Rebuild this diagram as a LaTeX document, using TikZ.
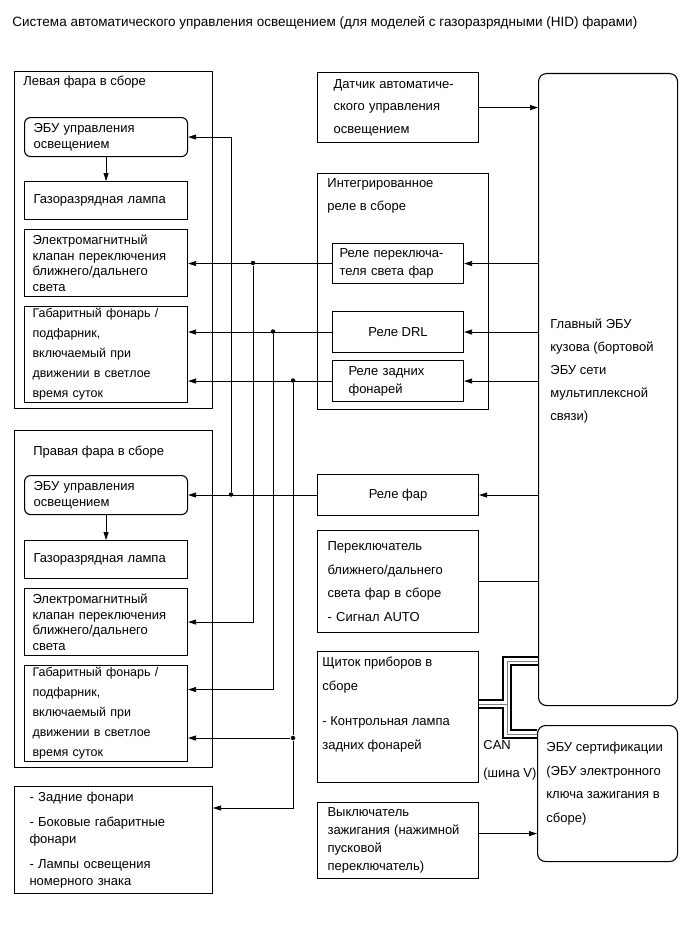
\documentclass[tikz,border=0pt]{standalone}
\usepackage{fontspec}
\setmainfont{Liberation Sans}
\usetikzlibrary{arrows.meta}

\tikzset{
  box/.style={draw, line width=1.1pt, anchor=north west, inner ysep=0pt, align=left,
    font=\fontsize{13}{#1}\selectfont},
  box/.default=15pt,
  lbl/.style={inner sep=0pt, anchor=north west, align=left, font=\fontsize{13}{#1}\selectfont},
  lbl/.default=15pt,
  arr/.style={-{Triangle[length=8pt,width=5pt]}},
  dot/.style={circle, fill, inner sep=0pt, minimum size=4.5pt},
  canbus/.style={line width=10pt, postaction={draw, white, line width=6pt},
    postaction={draw, gray, line width=0.8pt}},
}

\begin{document}
\begin{tikzpicture}[x=1pt, y=-1pt, line width=0.8pt]
  \useasboundingbox (0,0) rectangle (689,950);
  \node[lbl, font=\fontsize{13.5}{16}\selectfont] (title) at (12,16) {Система автоматического управления освещением (для моделей с газоразрядными (HID) фарами)};

  % left headlamp
  \node[box, minimum width=198pt, minimum height=337pt] (louter) at (14,71) {};
  \node[lbl] (llbl) at (23,76) {Левая фара в сборе};
  \node[box=16pt, inner xsep=9pt, text width=145pt, minimum height=39pt, rounded corners=6pt] (lecu) at (24,117) {ЭБУ управления\\освещением};
  \node[box, inner xsep=9pt, text width=145pt, minimum height=38pt] (llamp) at (24,181) {Газоразрядная лампа};
  \node[box=15.5pt, inner xsep=8pt, text width=147pt, minimum height=67pt] (lval) at (24,229) {Электромагнитный\\клапан переключения\\ближнего/дальнего\\света};
  \node[box, inner xsep=8pt, text width=147pt, minimum height=96pt, font=\fontsize{12.5}{20}\selectfont] (lgab) at (24,306) {\mbox{Габаритный фонарь /}\\подфарник,\\включаемый при\\движении в светлое\\время суток};
  \draw[arr] (lecu) -- (llamp);

  % right headlamp
  \node[box, minimum width=198pt, minimum height=337pt] (router) at (14,430) {};
  \node[lbl] (rlbl) at (33,446) {Правая фара в сборе};
  \node[box=16pt, inner xsep=9pt, text width=145pt, minimum height=39pt, rounded corners=6pt] (recu) at (24,475) {ЭБУ управления\\освещением};
  \node[box, inner xsep=9pt, text width=145pt, minimum height=38pt] (rlamp) at (24,540) {Газоразрядная лампа};
  \node[box=15.5pt, inner xsep=8pt, text width=147pt, minimum height=67pt] (rval) at (24,588) {Электромагнитный\\клапан переключения\\ближнего/дальнего\\света};
  \node[box, inner xsep=8pt, text width=147pt, minimum height=96pt, font=\fontsize{12.5}{20}\selectfont] (rgab) at (24,665) {\mbox{Габаритный фонарь /}\\подфарник,\\включаемый при\\движении в светлое\\время суток};
  \draw[arr] (recu) -- (rlamp);

  % rear lamps
  \node[box=17pt, inner xsep=15pt, text width=168pt, minimum height=107pt] (rear) at (14,786) {- Задние фонари\\[8pt]- Боковые габаритные\\фонари\\[8pt]- Лампы освещения\\номерного знака};

  % middle column
  \node[box=22.5pt, inner xsep=16pt, text width=129pt, minimum height=70pt] (sensor) at (317,72) {Датчик автоматиче-\\ского управления\\освещением};
  \node[box, minimum width=171pt, minimum height=236pt] (intrel) at (317,173) {};
  \node[lbl=23pt] (intlbl) at (327,178) {Интегрированное\\реле в сборе};
  \node[box=18pt, inner xsep=7pt, text width=117pt, minimum height=40pt] (hrel) at (332,243) {Реле переключа-\\теля света фар};
  \node[box, align=center, minimum width=131pt, minimum height=41pt] (drl) at (332,311) {Реле DRL};
  \node[box=18pt, inner xsep=16pt, text width=99pt, minimum height=41pt] (trel) at (332,360) {Реле задних\\фонарей};
  \node[box, align=center, minimum width=161pt, minimum height=41pt] (rfar) at (317,474) {Реле фар};
  \node[box=23.5pt, inner xsep=10pt, text width=141pt, minimum height=102pt] (hsw) at (317,530) {Переключатель\\ближнего/дальнего\\света фар в сборе\\- Сигнал AUTO};
  \node[box, minimum width=161pt, minimum height=131pt] (meter) at (317,651) {};
  \node[lbl=24pt] (mlbl) at (322,657) {Щиток приборов в\\сборе\\[11pt]- Контрольная лампа\\задних фонарей};
  \node[box=18pt, inner xsep=10pt, text width=141pt, minimum height=76pt] (ign) at (317,802) {Выключатель\\зажигания (нажимной\\пусковой\\переключатель)};

  % right column
  \node[box, minimum width=139pt, minimum height=632pt, rounded corners=8pt] (bcm) at (538,73) {};
  \node[lbl=23pt] (bcmlbl) at (550,318) {Главный ЭБУ\\кузова (бортовой\\ЭБУ сети\\мультиплексной\\связи)};
  \node[box, minimum width=140pt, minimum height=136pt, rounded corners=8pt] (cert) at (537,725) {};
  \node[lbl=23.5pt] (certlbl) at (546,742) {ЭБУ сертификации\\(ЭБУ электронного\\ключа зажигания в\\сборе)};
  \node[lbl=28pt] (canlbl) at (483,740) {CAN\\(шина V)};

  % signals into body ECU and relays
  \draw[arr] (sensor) -- (sensor -| bcm.west);
  \draw[arr] (bcm.west |- hrel) -- (hrel);
  \draw[arr] (bcm.west |- drl) -- (drl);
  \draw[arr] (bcm.west |- trel) -- (trel);
  \draw[arr] (bcm.west |- rfar) -- (rfar);
  \draw (hsw) -- (hsw -| bcm.west);
  \draw[arr] ([yshift=7pt]ign.east) -- ([yshift=7pt]ign.east -| cert.west);

  % relay outputs to lamps
  \node[dot] (ja) at (231,494.5) {};
  \node[dot] (jb) at (253,263) {};
  \node[dot] (jc) at (273,331.5) {};
  \node[dot] (jd) at (293,380.5) {};
  \node[dot] (je) at (293,738) {};
  \coordinate (rearin) at (293,808);
  \draw[arr] (rfar) -- (rfar -| recu.east);
  \draw[arr] (ja) |- (lecu);
  \draw[arr] (hrel) -- (hrel -| lval.east);
  \draw[arr] (jb) |- (rval);
  \draw[arr] (drl) -- (drl -| lgab.east);
  \draw[arr] (jc) |- ([yshift=24pt]rgab.east);
  \draw[arr] (trel) -- (trel -| lgab.east);
  \draw (jd) -- (je);
  \draw[arr] (je) -- (je -| rgab.east);
  \draw[arr] (je) -- (rearin) -- (rearin -| rear.east);

  % CAN bus
  \coordinate (canj) at (507,704);
  \coordinate (canu) at (507,661);
  \coordinate (canl) at (507,734);
  \draw[canbus] (meter.east |- canj) -- (canj) (cert.west |- canl) -- (canl) -- (canu) -- (bcm.west |- canu);
\end{tikzpicture}
\end{document}
